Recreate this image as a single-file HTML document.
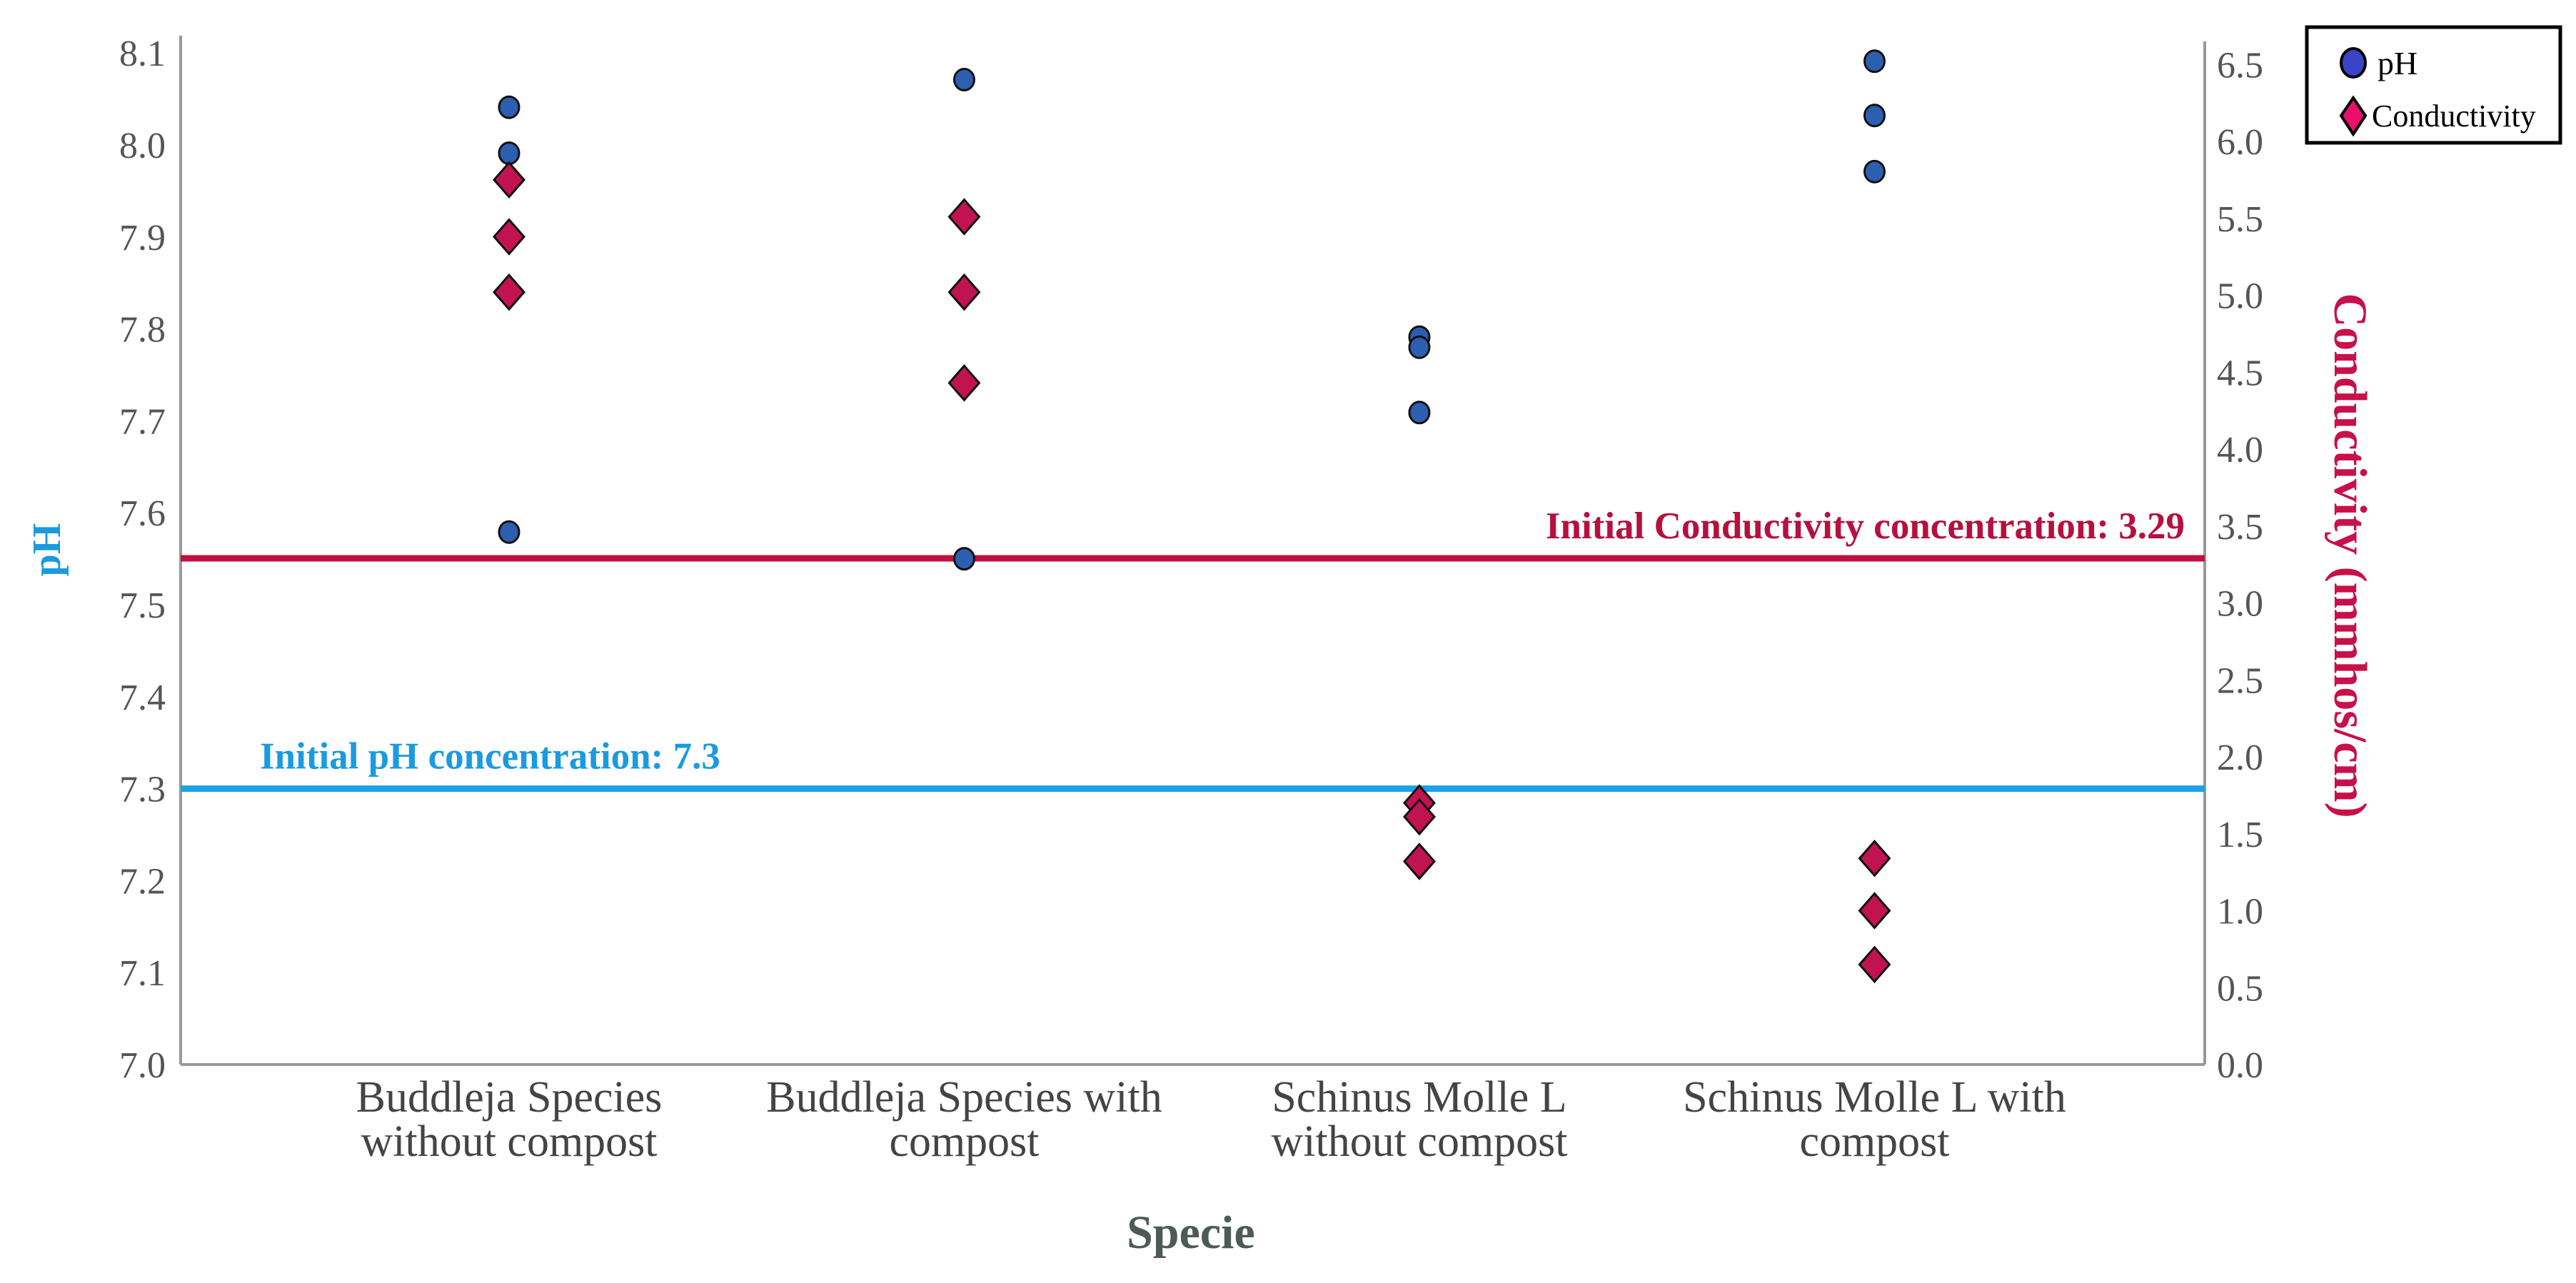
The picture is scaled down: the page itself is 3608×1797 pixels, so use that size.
<!DOCTYPE html>
<html><head><meta charset="utf-8"><style>
html,body{margin:0;padding:0;background:#fff;width:3608px;height:1797px;overflow:hidden}
svg{display:block}
</style></head><body>
<svg id="chart" width="3608" height="1797" viewBox="0 0 3608 1797" xmlns="http://www.w3.org/2000/svg" font-family="'Liberation Serif', serif">
<g id="axes"></g>
<g id="marks"></g>
</svg>
<script>
const categories = [["Buddleja Species","without compost"],["Buddleja Species with","compost"],["Schinus Molle L","without compost"],["Schinus Molle L with","compost"]];
const phValues = [[8.041,7.991,7.579],[8.071,7.55],[7.791,7.780,7.709],[8.091,8.032,7.971]];
const condValues = [[5.75,5.38,5.02],[5.51,5.02,4.43],[1.70,1.61,1.32],[1.34,1.00,0.65]];
const phTicks = ["7.0","7.1","7.2","7.3","7.4","7.5","7.6","7.7","7.8","7.9","8.0","8.1"];
const condTicks = ["0.0","0.5","1.0","1.5","2.0","2.5","3.0","3.5","4.0","4.5","5.0","5.5","6.0","6.5"];
const initialPH = 7.3;
const initialCond = 3.29;

const NS="http://www.w3.org/2000/svg";
const axes=document.getElementById('axes'), marks=document.getElementById('marks');
const X0=253, X1=3088, YB=1491;
const yPH=v=>YB-(v-7.0)*1288;
const yC=v=>YB-v*215.5;
const xCat=i=>713+i*637.5;
function el(tag,attrs,parent,text){const e=document.createElementNS(NS,tag);for(const k in attrs)e.setAttribute(k,attrs[k]);if(text!==undefined)e.textContent=text;parent.appendChild(e);return e;}

let a=el('line',{x1:X0,y1:50,x2:X0,y2:YB,stroke:'#999','stroke-width':4},axes);

a=el('line',{x1:X1,y1:58,x2:X1,y2:YB,stroke:'#999','stroke-width':4},axes);

a=el('line',{x1:X0,y1:YB,x2:X1,y2:YB,stroke:'#999','stroke-width':4},axes);


phTicks.forEach(t=>{const e=el('text',{x:232,y:yPH(parseFloat(t))+18,'text-anchor':'end','font-size':52,fill:'#555'},axes,t);
});
condTicks.forEach(t=>{const e=el('text',{x:3105,y:yC(parseFloat(t))+18,'font-size':52,fill:'#555'},axes,t);
});
categories.forEach((c,i)=>{c.forEach((ln,j)=>{const e=el('text',{x:xCat(i),y:1557+j*62,'text-anchor':'middle','font-size':62,fill:'#444'},axes,ln);
});});

let t=el('text',{x:1668,y:1748,'text-anchor':'middle','font-size':66,'font-weight':'bold',fill:'#4d5a57'},axes,'Specie');

t=el('text',{x:0,y:0,'text-anchor':'middle','font-size':56,'font-weight':'bold',fill:'#1a9be0',transform:'translate(84,770) rotate(-90)'},axes,'pH');

t=el('text',{x:0,y:0,'text-anchor':'middle','font-size':66,'font-weight':'bold',fill:'#c8104a',transform:'translate(3270,778) rotate(90)'},axes,'Conductivity (mmhos/cm)');


let l=el('line',{x1:X0,y1:yC(initialCond),x2:X1,y2:yC(initialCond),stroke:'#c0103f','stroke-width':9},marks);

t=el('text',{x:3060,y:yC(initialCond)-28,'text-anchor':'end','font-size':53,'font-weight':'bold',fill:'#b5103e'},marks,'Initial Conductivity concentration: '+initialCond);

l=el('line',{x1:X0,y1:yPH(initialPH),x2:X1,y2:yPH(initialPH),stroke:'#1ea0e8','stroke-width':9},marks);

t=el('text',{x:364,y:yPH(initialPH)-28,'font-size':53,'font-weight':'bold',fill:'#1a9be0'},marks,'Initial pH concentration: '+initialPH);


phValues.forEach((arr,i)=>arr.forEach(v=>{const e=el('ellipse',{cx:xCat(i),cy:yPH(v),rx:14,ry:15,fill:'#2d5fb0',stroke:'#111','stroke-width':3},marks);
}));
condValues.forEach((arr,i)=>arr.forEach(v=>{const x=xCat(i),y=yC(v);const e=el('polygon',{points:`${x},${y-24} ${x+21},${y} ${x},${y+24} ${x-21},${y}`,fill:'#c0134f',stroke:'#111','stroke-width':3},marks);
}));

const lg=el('g',{},marks);

el('rect',{x:3231,y:38,width:355,height:162,fill:'#fff',stroke:'#000','stroke-width':5},lg);
el('ellipse',{cx:3296,cy:88,rx:17,ry:20,fill:'#3a44c8',stroke:'#000','stroke-width':4},lg);
t=el('text',{x:3330,y:104,'font-size':46,fill:'#000'},lg,'pH');

el('polygon',{points:'3296,137 3313,162 3296,188 3279,162',fill:'#e8106a',stroke:'#000','stroke-width':4},lg);
t=el('text',{x:3322,y:177,'font-size':44,fill:'#000'},lg,'Conductivity');

</script>
</body></html>
